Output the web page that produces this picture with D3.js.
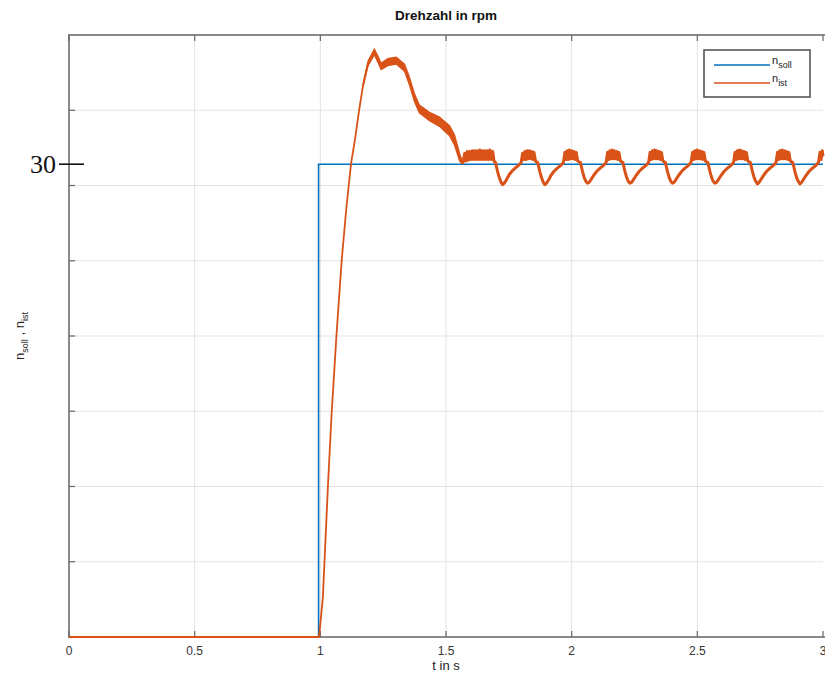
<!DOCTYPE html>
<html><head><meta charset="utf-8">
<script src="https://cdn.jsdelivr.net/npm/d3@7"></script>
<style>html,body{margin:0;padding:0;background:#fff;}svg{display:block;}</style>
</head><body>
<svg id="c" width="825" height="679"></svg>
<script>
// ---------- data ----------
const xTicks = [0, 0.5, 1, 1.5, 2, 2.5, 3];
const xTickLabels = ["0", "0.5", "1", "1.5", "2", "2.5", "3"];
const yGridRad = [0.5, 1, 1.5, 2, 2.5, 3, 3.5];   // grid positions (rad/s)
const yMarkValue = 30;                             // labelled tick (rpm)
const yMarkLabel = "30";

const sollTime  = [0, 0.993, 0.993, 3];
const sollValue = [0, 0, 30, 30];

const istTime = [
 0, 0.995, 1.01, 1.02, 1.03, 1.045, 1.064, 1.085, 1.104, 1.122, 1.14, 1.155, 1.170, 1.190, 1.215, 1.228, 1.242, 1.268, 1.302, 1.335, 1.355, 1.375, 1.394, 1.434, 1.474, 1.514, 1.534, 1.554, 1.567,
 1.575, 1.579, 1.585, 1.589, 1.595, 1.599, 1.605, 1.609, 1.615, 1.619, 1.625, 1.629, 1.635, 1.639, 1.645, 1.649, 1.655, 1.659, 1.665, 1.669, 1.675, 1.680, 1.686, 1.691,
 1.697, 1.705, 1.712, 1.719, 1.725, 1.732, 1.740, 1.750, 1.762, 1.775, 1.787, 1.799, 1.805, 1.8095, 1.814, 1.8185, 1.823, 1.8275, 1.832, 1.8365, 1.841, 1.8455, 1.850, 1.856,
 1.865, 1.873, 1.880, 1.887, 1.893, 1.900, 1.908, 1.918, 1.930, 1.943, 1.955, 1.967, 1.973, 1.9775, 1.982, 1.9865, 1.991, 1.9955, 2.000, 2.0045, 2.009, 2.0135, 2.018, 2.024,
 2.035, 2.043, 2.050, 2.057, 2.063, 2.070, 2.078, 2.088, 2.100, 2.113, 2.125, 2.137, 2.143, 2.1475, 2.152, 2.1565, 2.161, 2.1655, 2.170, 2.1745, 2.179, 2.1835, 2.188, 2.194,
 2.204, 2.212, 2.219, 2.226, 2.232, 2.239, 2.247, 2.257, 2.269, 2.282, 2.294, 2.306, 2.312, 2.3165, 2.321, 2.3255, 2.330, 2.3345, 2.339, 2.3435, 2.348, 2.3525, 2.357, 2.363,
 2.373, 2.381, 2.388, 2.395, 2.401, 2.408, 2.416, 2.426, 2.438, 2.451, 2.463, 2.475, 2.481, 2.4855, 2.490, 2.4945, 2.499, 2.5035, 2.508, 2.5125, 2.517, 2.5215, 2.526, 2.532,
 2.542, 2.550, 2.557, 2.564, 2.570, 2.577, 2.585, 2.595, 2.607, 2.620, 2.632, 2.644, 2.650, 2.6545, 2.659, 2.6635, 2.668, 2.6725, 2.677, 2.6815, 2.686, 2.6905, 2.695, 2.701,
 2.711, 2.719, 2.726, 2.733, 2.739, 2.746, 2.754, 2.764, 2.776, 2.789, 2.801, 2.813, 2.819, 2.8235, 2.828, 2.8325, 2.837, 2.8415, 2.846, 2.8505, 2.855, 2.8595, 2.864, 2.870,
 2.880, 2.888, 2.895, 2.902, 2.908, 2.915, 2.923, 2.933, 2.945, 2.958, 2.970, 2.982, 2.988, 2.9925, 2.997, 3.0
];
const istValue = [
 0, 0, 2.5, 6.0, 9.5, 14.2, 19.1, 23.9, 27.3, 30.0, 31.8, 33.5, 35.0, 36.4, 37.15, 36.7, 36.2, 36.5, 36.6, 36.1, 35.25, 34.2, 33.5, 33.0, 32.7, 32.1, 31.5, 30.4, 30.1,
 30.7, 30.2, 30.8, 30.25, 30.8, 30.3, 30.85, 30.3, 30.85, 30.3, 30.85, 30.3, 30.9, 30.3, 30.85, 30.3, 30.85, 30.3, 30.85, 30.3, 30.9, 30.3, 30.8, 30.2,
 30.1, 29.55, 29.15, 28.85, 28.7, 28.8, 29.0, 29.3, 29.55, 29.75, 29.9, 30.1, 30.7, 30.3, 30.8, 30.3, 30.85, 30.35, 30.85, 30.35, 30.8, 30.3, 30.75, 30.2,
 30.1, 29.55, 29.15, 28.85, 28.7, 28.8, 29.0, 29.3, 29.55, 29.75, 29.9, 30.1, 30.75, 30.3, 30.85, 30.3, 30.9, 30.35, 30.85, 30.35, 30.8, 30.3, 30.75, 30.2,
 30.1, 29.55, 29.15, 28.9, 28.8, 28.85, 29.05, 29.3, 29.55, 29.75, 29.9, 30.1, 30.75, 30.3, 30.85, 30.35, 30.9, 30.35, 30.85, 30.35, 30.8, 30.3, 30.75, 30.2,
 30.1, 29.55, 29.15, 28.9, 28.8, 28.85, 29.05, 29.3, 29.55, 29.75, 29.9, 30.1, 30.75, 30.3, 30.85, 30.35, 30.9, 30.35, 30.85, 30.35, 30.8, 30.3, 30.75, 30.2,
 30.1, 29.55, 29.15, 28.9, 28.8, 28.85, 29.05, 29.3, 29.55, 29.75, 29.9, 30.1, 30.75, 30.3, 30.85, 30.35, 30.9, 30.35, 30.85, 30.35, 30.8, 30.3, 30.75, 30.2,
 30.1, 29.55, 29.15, 28.9, 28.8, 28.85, 29.05, 29.3, 29.55, 29.75, 29.9, 30.1, 30.75, 30.3, 30.85, 30.35, 30.9, 30.35, 30.85, 30.35, 30.8, 30.3, 30.75, 30.2,
 30.1, 29.55, 29.15, 28.9, 28.75, 28.85, 29.05, 29.3, 29.55, 29.75, 29.9, 30.1, 30.75, 30.3, 30.85, 30.35, 30.9, 30.35, 30.85, 30.35, 30.8, 30.3, 30.75, 30.2,
 30.1, 29.55, 29.15, 28.9, 28.75, 28.85, 29.05, 29.3, 29.55, 29.75, 29.9, 30.1, 30.75, 30.3, 30.85, 30.5
];

// ripple envelope of n_ist during the overshoot (rpm)
const bandTime  = [1.170, 1.190, 1.215, 1.228, 1.242, 1.268, 1.302, 1.335, 1.355, 1.375, 1.394, 1.434, 1.474, 1.514, 1.534, 1.554, 1.562];
const bandUpper = [35.1, 36.55, 37.3, 36.9, 36.4, 36.7, 36.8, 36.35, 35.5, 34.45, 33.75, 33.3, 33.0, 32.45, 31.85, 30.7, 30.3];
const bandLower = [34.9, 36.25, 36.95, 36.5, 36.0, 36.25, 36.35, 35.9, 35.0, 33.95, 33.25, 32.75, 32.4, 31.8, 31.2, 30.2, 30.05];

const steadyFrom = 1.55;   // from here on the measured speed carries a visible ripple band

const seriesNames = ["soll", "ist"];
const seriesColors = ["#0072BD", "#D95319"];

// ---------- drawing ----------
const svg = d3.select("#c");
const L = 69, R = 823, T = 35, B = 637;
const x = d3.scaleLinear().domain([0, 3]).range([L, R]);
const y = d3.scaleLinear().domain([0, 4 * 30 / Math.PI]).range([B, T]);
const yGrid = yGridRad.map(v => v * 30 / Math.PI);

const sans = "'Liberation Sans', Arial, Helvetica, sans-serif";

// grid
const g = svg.append("g");
g.selectAll(".vg").data(xTicks.slice(1, -1)).enter().append("line")
  .attr("x1", d => x(d)).attr("x2", d => x(d)).attr("y1", T).attr("y2", B)
  .attr("stroke", "#e3e3e3").attr("stroke-width", 1);
g.selectAll(".hg").data(yGrid).enter().append("line")
  .attr("x1", L).attr("x2", R).attr("y1", d => y(d)).attr("y2", d => y(d))
  .attr("stroke", "#e3e3e3").attr("stroke-width", 1);

// axes box
const axisCol = "#8a8a8a";
svg.append("line").attr("x1", L).attr("x2", R + 5).attr("y1", T).attr("y2", T).attr("stroke", axisCol).attr("stroke-width", 2);
svg.append("line").attr("x1", L).attr("x2", R + 5).attr("y1", B).attr("y2", B).attr("stroke", axisCol).attr("stroke-width", 2);
svg.append("line").attr("x1", L).attr("x2", L).attr("y1", T - 1).attr("y2", B + 1).attr("stroke", axisCol).attr("stroke-width", 2);

// inner ticks
svg.selectAll(".xtb").data(xTicks).enter().append("line")
  .attr("x1", d => x(d)).attr("x2", d => x(d)).attr("y1", B).attr("y2", B - 6)
  .attr("stroke", "#666").attr("stroke-width", 1.2);
svg.selectAll(".xtt").data(xTicks).enter().append("line")
  .attr("x1", d => x(d)).attr("x2", d => x(d)).attr("y1", T).attr("y2", T + 6)
  .attr("stroke", "#666").attr("stroke-width", 1.2);
svg.selectAll(".ytl").data(yGrid).enter().append("line")
  .attr("x1", L).attr("x2", L + 6).attr("y1", d => y(d)).attr("y2", d => y(d))
  .attr("stroke", "#666").attr("stroke-width", 1.2);

// x tick labels
svg.selectAll(".xl").data(xTicks).enter().append("text")
  .attr("x", d => x(d)).attr("y", B + 18).attr("text-anchor", "middle")
  .attr("font-family", sans).attr("font-size", 12).attr("fill", "#333")
  .text((d, i) => xTickLabels[i]);

// x label
svg.append("text").attr("x", (L + R) / 2).attr("y", 670).attr("text-anchor", "middle")
  .attr("font-family", sans).attr("font-size", 13).attr("fill", "#222").text("t in s");

// title
svg.append("text").attr("x", (L + R) / 2).attr("y", 20).attr("text-anchor", "middle")
  .attr("font-family", sans).attr("font-size", 13.5).attr("font-weight", "bold").attr("fill", "#111")
  .text("Drehzahl in rpm");

// y label
const yl = svg.append("text").attr("transform", `translate(24,${(T + B) / 2}) rotate(-90)`)
  .attr("text-anchor", "middle").attr("font-family", sans).attr("font-size", 13).attr("fill", "#222");
yl.append("tspan").text("n");
yl.append("tspan").attr("dy", 4).attr("font-size", 9).text(seriesNames[0]);
yl.append("tspan").attr("dy", -4).text(" , n");
yl.append("tspan").attr("dy", 4).attr("font-size", 9).text(seriesNames[1]);

// marked 30 tick
svg.append("line").attr("x1", 59).attr("x2", 84).attr("y1", y(yMarkValue)).attr("y2", y(yMarkValue))
  .attr("stroke", "#111").attr("stroke-width", 1.6);
svg.append("text").attr("x", 56).attr("y", y(yMarkValue)).attr("dy", "0.35em").attr("text-anchor", "end")
  .attr("font-family", "'Liberation Serif', 'Times New Roman', serif").attr("font-size", 26).attr("fill", "#111")
  .text(yMarkLabel);

// lines
svg.append("clipPath").attr("id", "clip").append("rect").attr("x", L).attr("y", T).attr("width", 825 - L).attr("height", B - T + 2);
const plot = svg.append("g").attr("clip-path", "url(#clip)");
const line = d3.line().x(d => x(d[0])).y(d => y(d[1]));

plot.append("path").datum(sollTime.map((t, i) => [t, sollValue[i]]))
  .attr("d", line).attr("fill", "none").attr("stroke", seriesColors[0]).attr("stroke-width", 1.6);

const area = d3.area().x(d => x(d[0])).y0(d => y(d[2])).y1(d => y(d[1]));
plot.append("path").datum(bandTime.map((t, i) => [t, bandUpper[i], bandLower[i]]))
  .attr("d", area).attr("fill", seriesColors[1]).attr("stroke", seriesColors[1]).attr("stroke-width", 1.2);

const istPts = istTime.map((t, i) => [t, istValue[i]]);
plot.append("path").datum(istPts)
  .attr("d", line).attr("fill", "none").attr("stroke", seriesColors[1]).attr("stroke-width", 1.8)
  .attr("stroke-linejoin", "round");
plot.append("path").datum(istPts.filter(d => d[0] >= steadyFrom))
  .attr("d", line).attr("fill", "none").attr("stroke", seriesColors[1]).attr("stroke-width", 3)
  .attr("stroke-linejoin", "round");

// legend
const lg = svg.append("g");
lg.append("rect").attr("x", 704).attr("y", 50).attr("width", 106).attr("height", 47)
  .attr("fill", "#fff").attr("stroke", "#555").attr("stroke-width", 1.6);
seriesNames.forEach((nm, i) => {
  const yy = 65 + i * 18;
  lg.append("line").attr("x1", 714).attr("x2", 770).attr("y1", yy).attr("y2", yy)
    .attr("stroke", seriesColors[i]).attr("stroke-width", 1.6);
  const t = lg.append("text").attr("x", 772).attr("y", yy - 1).attr("font-family", sans)
    .attr("font-size", 11).attr("fill", "#222");
  t.append("tspan").text("n");
  t.append("tspan").attr("dy", 4).attr("font-size", 9).text(nm);
});
</script>
</body></html>
